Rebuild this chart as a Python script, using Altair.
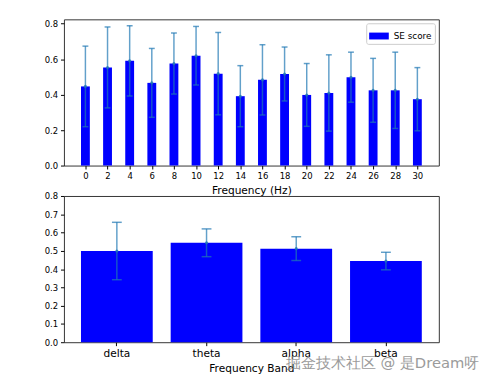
import altair as alt
import pandas as pd

# ---- data ----
freqs = [0, 2, 4, 6, 8, 10, 12, 14, 16, 18, 20, 22, 24, 26, 28, 30]
freq_mean = [0.446, 0.553, 0.590, 0.466, 0.575, 0.619, 0.518, 0.391,
             0.483, 0.516, 0.398, 0.409, 0.498, 0.424, 0.424, 0.374]
freq_err = [0.227, 0.228, 0.198, 0.194, 0.172, 0.165, 0.232, 0.172,
            0.198, 0.152, 0.177, 0.215, 0.141, 0.180, 0.215, 0.178]

bands = ["delta", "theta", "alpha", "beta"]
band_mean = [0.499, 0.544, 0.512, 0.444]
band_err = [0.157, 0.076, 0.065, 0.048]

freq_ticks = [0, 2, 4, 6, 8, 10, 12, 14, 16, 18, 20, 22, 24, 26, 28, 30]
top_yticks = [0.0, 0.2, 0.4, 0.6, 0.8]
bot_yticks = [0.0, 0.1, 0.2, 0.3, 0.4, 0.5, 0.6, 0.7, 0.8]
series_name = "SE score"
watermark = "掘金技术社区 @ 是Dream呀"

df_f = pd.DataFrame({"f": freqs, "m": freq_mean, "e": freq_err})
df_b = pd.DataFrame({"band": bands, "m": band_mean, "e": band_err})

BAR = "#0000ff"
ERR = "#1f77b4"
FONT = "DejaVu Sans"
W, H = 382, 149

legend = alt.Legend(
    title=None, orient="top-right", offset=4, padding=3,
    fillColor="white", strokeColor="#cccccc", cornerRadius=2,
    symbolType="M-1,-0.35H1V0.35H-1Z", symbolSize=400,
    symbolStrokeWidth=0, symbolOpacity=1,
    labelFontSize=9, labelFont=FONT, labelColor="black", labelOffset=5,
)
color = alt.Color("series:N", scale=alt.Scale(domain=[series_name], range=[BAR]),
                  legend=legend)

# ---- top chart ----
xs = alt.Scale(domain=[-1.94, 31.94], nice=False, zero=False)
ys_top = alt.Scale(domain=[0, 0.824], nice=False)
xaxis_top = alt.Axis(values=freq_ticks, title="Frequency (Hz)", grid=False,
                     labelFontSize=8.6, titleFontSize=10.8, titleFontWeight="normal",
                     labelPadding=3, titlePadding=4, tickSize=3.5, domain=False,
                     labelColor="black", titleColor="black", tickColor="black",
                     labelFlush=False, labelOverlap=False)
yaxis_top = alt.Axis(values=top_yticks, format=".1f", title=None, grid=False,
                     labelFontSize=8.6, labelPadding=3, tickSize=3.5, domain=False,
                     labelColor="black", tickColor="black", labelOverlap=False)

base_f = alt.Chart(df_f).transform_calculate(
    lo="datum.f - 0.4", hi="datum.f + 0.4", z="0",
    elo="datum.m - datum.e", ehi="datum.m + datum.e",
    series=f"'{series_name}'")

X_f = lambda fld: alt.X(fld, scale=xs, axis=xaxis_top)
Y_f = lambda fld: alt.Y(fld, scale=ys_top, axis=yaxis_top)

bars_f = base_f.mark_bar().encode(
    x=X_f("lo:Q"), x2="hi:Q", y=Y_f("m:Q"), y2="z:Q", color=color)
rule_f = base_f.mark_rule(color=ERR, opacity=0.7, strokeWidth=1.5).encode(
    x=X_f("f:Q"), y=Y_f("elo:Q"), y2="ehi:Q")
capl_f = base_f.mark_tick(color=ERR, opacity=0.7, thickness=1.5, size=6,
                          orient="horizontal").encode(x=X_f("f:Q"), y=Y_f("elo:Q"))
caph_f = base_f.mark_tick(color=ERR, opacity=0.7, thickness=1.5, size=6,
                          orient="horizontal").encode(x=X_f("f:Q"), y=Y_f("ehi:Q"))
dot_f = base_f.mark_point(color=ERR, filled=True, opacity=0.8, size=10).encode(
    x=X_f("f:Q"), y=Y_f("m:Q"))

top = alt.layer(bars_f, rule_f, capl_f, caph_f, dot_f).properties(width=W, height=H)

# ---- bottom chart ----
xb = alt.Scale(domain=bands, paddingInner=0.2, paddingOuter=0.19)
ys_bot = alt.Scale(domain=[0, 0.8], nice=False)
xaxis_bot = alt.Axis(title="Frequency Band", labelAngle=0, grid=False,
                     labelFontSize=10.8, titleFontSize=10.8, titleFontWeight="normal",
                     labelPadding=2, titlePadding=5, tickSize=3.5, domain=False,
                     labelColor="black", titleColor="black", tickColor="black",
                     labelOverlap=False)
yaxis_bot = alt.Axis(values=bot_yticks, format=".1f", title=None, grid=False,
                     labelFontSize=8.6, labelPadding=3, tickSize=3.5, domain=False,
                     labelColor="black", tickColor="black", labelOverlap=False)

base_b = alt.Chart(df_b).transform_calculate(
    elo="datum.m - datum.e", ehi="datum.m + datum.e",
    series=f"'{series_name}'")

X_b = lambda: alt.X("band:N", scale=xb, sort=bands, axis=xaxis_bot)
Y_b = lambda fld: alt.Y(fld, scale=ys_bot, axis=yaxis_bot)

bars_b = base_b.mark_bar().encode(x=X_b(), y=Y_b("m:Q"), color=color)
rule_b = base_b.mark_rule(color=ERR, opacity=0.7, strokeWidth=1.5).encode(
    x=X_b(), y=Y_b("elo:Q"), y2="ehi:Q")
capl_b = base_b.mark_tick(color=ERR, opacity=0.7, thickness=1.5, size=10,
                          orient="horizontal").encode(x=X_b(), y=Y_b("elo:Q"))
caph_b = base_b.mark_tick(color=ERR, opacity=0.7, thickness=1.5, size=10,
                          orient="horizontal").encode(x=X_b(), y=Y_b("ehi:Q"))
dot_b = base_b.mark_point(color=ERR, filled=True, opacity=0.8, size=10).encode(
    x=X_b(), y=Y_b("m:Q"))

wm = alt.Chart(pd.DataFrame({"t": [watermark]})).mark_text(
    align="left", baseline="middle", fontSize=15, font=FONT,
    color="#8a8a8a", opacity=0.85).encode(
    text="t:N", x=alt.value(226), y=alt.value(170))

bottom = alt.layer(bars_b, rule_b, capl_b, caph_b, dot_b, wm).properties(width=W, height=H)

chart = alt.vconcat(top, bottom, spacing=31, bounds="flush").properties(
    padding={"left": 36, "top": 7, "right": 5, "bottom": 5}
).configure(font=FONT).configure_view(stroke="#333333", strokeWidth=1)

chart.save("out.html", embed_options={"renderer": "svg", "actions": False})
